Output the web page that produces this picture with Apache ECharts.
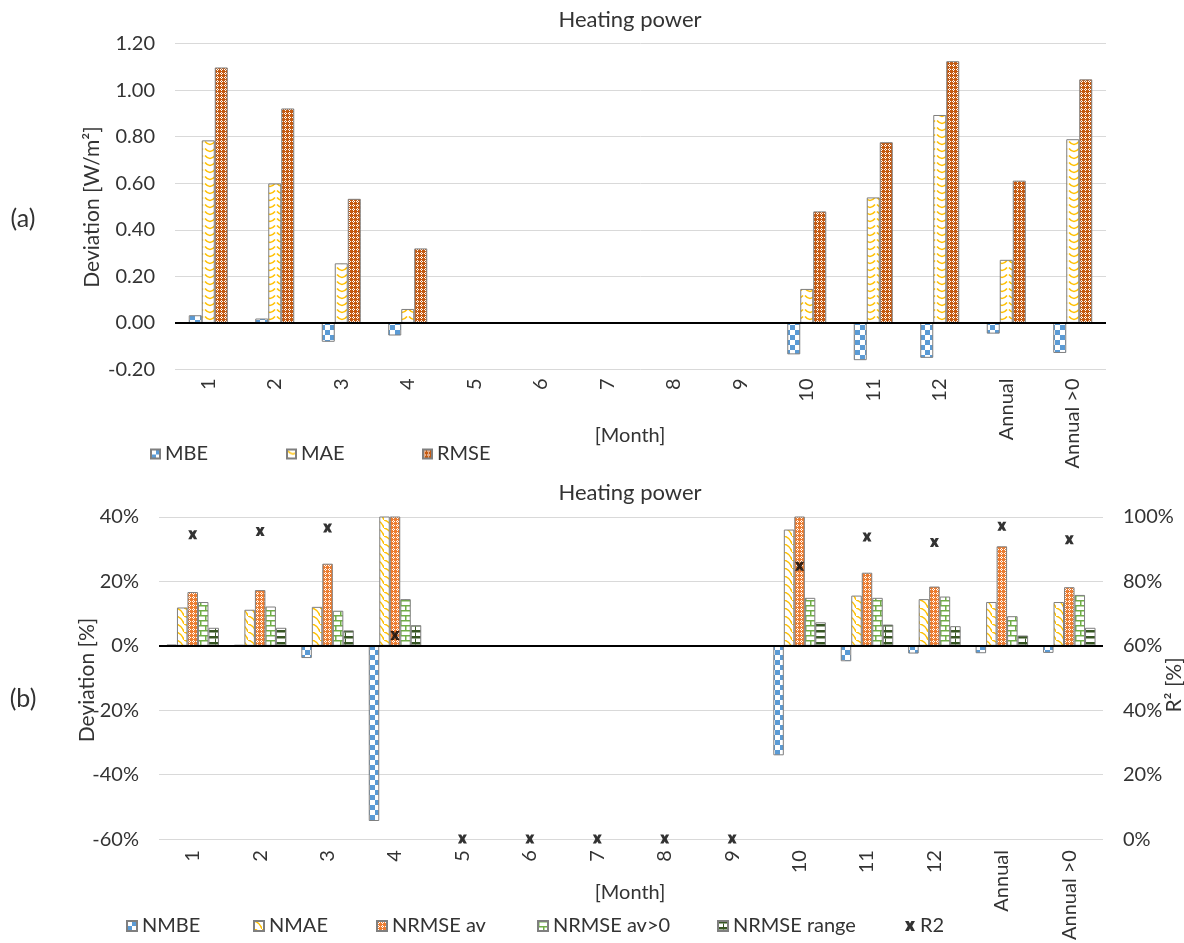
<!DOCTYPE html>
<html><head><meta charset="utf-8">
<script src="https://cdn.jsdelivr.net/npm/echarts@6/dist/echarts.min.js"></script>
<style>html,body{margin:0;padding:0;background:#fff}#c{width:1184px;height:943px}</style>
</head><body><div id="c"></div>
<script>
// ---------- data ----------
const categories = ['1','2','3','4','5','6','7','8','9','10','11','12','Annual','Annual >0'];
// (a) absolute deviations [W/m2]
const mbe  = [0.033, 0.019, -0.081, -0.054, null, null, null, null, null, -0.135, -0.160, -0.150, -0.046, -0.129];
const mae  = [0.784, 0.599, 0.256, 0.060, null, null, null, null, null, 0.146, 0.539, 0.893, 0.271, 0.789];
const rmse = [1.097, 0.921, 0.533, 0.320, null, null, null, null, null, 0.479, 0.776, 1.124, 0.611, 1.046];
// (b) relative deviations [%]
const nmbe       = [0.4, 0.3, -3.8, -54.4, null, null, null, null, null, -34.0, -4.8, -2.4, -2.3, -2.2];
const nmae       = [11.9, 11.2, 12.1, 48.0, null, null, null, null, null, 36.1, 15.6, 14.5, 13.6, 13.6];
const nrmseAv    = [16.7, 17.3, 25.5, 60.0, null, null, null, null, null, 45.0, 22.7, 18.4, 30.9, 18.2];
const nrmseAvPos = [13.6, 12.2, 10.9, 14.5, null, null, null, null, null, 14.9, 14.9, 15.3, 9.2, 15.8];
const nrmseRange = [5.6, 5.6, 4.8, 6.4, null, null, null, null, null, 7.3, 6.6, 6.1, 3.2, 5.6];
const r2         = [94.5, 95.5, 96.6, 63.2, 0, 0, 0, 0, 0, 84.7, 93.8, 92.1, 97.1, 92.9];
const yTicksA = { min: -0.2, max: 1.2, interval: 0.2 };
const yTicksB = { min: -60, max: 40, interval: 20 };
const yTicksR = { min: 0, max: 100, interval: 20 };
const legendA = ['MBE', 'MAE', 'RMSE'];
const legendB = ['NMBE', 'NMAE', 'NRMSE av', 'NRMSE av>0', 'NRMSE range', 'R2'];

// ---------- patterns ----------
function pat(w, h, fn) {
  const c = document.createElement('canvas'); c.width = w; c.height = h;
  const g = c.getContext('2d'); g.fillStyle = '#fff'; g.fillRect(0, 0, w, h); fn(g);
  return { image: c, repeat: 'repeat' };
}
const pChecker = pat(10, 10, g => { g.fillStyle = '#5B9BD5'; g.fillRect(5, 0, 5, 5); g.fillRect(0, 5, 5, 5); });
const pWave = pat(12, 7, g => { g.strokeStyle = '#FFC000'; g.lineWidth = 1.6; g.beginPath(); g.moveTo(1, 1.5); g.quadraticCurveTo(6, 7.5, 11, 1.5); g.stroke(); });
const pDiagWave = pat(8, 8, g => { g.strokeStyle = '#FFC000'; g.lineWidth = 1.5; g.beginPath(); g.moveTo(0, 0); g.quadraticCurveTo(6, 1.5, 8, 8); g.stroke(); });
function dots(base) {
  return pat(4, 4, g => { g.fillStyle = base; g.fillRect(0, 0, 4, 4); g.fillStyle = '#fff';
    g.fillRect(1, 0, 1, 1); g.fillRect(0, 1, 1, 1); g.fillRect(2, 1, 1, 1); g.fillRect(1, 2, 1, 1); });
}
const pDotsDark = dots('#C55A11');
const pDotsLight = dots('#ED7D31');
const pBrick = pat(10, 10, g => { g.fillStyle = '#70AD47'; g.fillRect(0, 0, 10, 1.5); g.fillRect(0, 5, 10, 1.5); g.fillRect(0, 0, 1.5, 5); g.fillRect(5, 5, 1.5, 5); });
const pHBrick = pat(10, 6, g => { g.fillStyle = '#375623'; g.fillRect(0, 0, 10, 2.5); g.fillRect(5, 2.5, 1, 3.5); });

const xPath = 'path://M0,0 L3.6,0 L5,2.4 L6.4,0 L10,0 L7.2,5 L10,10 L6.4,10 L5,7.6 L3.6,10 L0,10 L2.8,5 Z';
const FONT = 'Lato';
const TXT = '#333';
const FS = 20;
const border = { borderColor: '#7f7f7f', borderWidth: 1 };
const zeroLine = { silent: true, symbol: 'none', label: { show: false }, lineStyle: { color: '#000', width: 2, type: 'solid' }, data: [{ yAxis: 0 }], animation: false };

function txt(text, x, y, size, rot) {
  return { type: 'text', x: x, y: y, rotation: rot || 0, silent: true,
    style: { text: text, font: size + 'px ' + FONT, fill: TXT, align: 'center', verticalAlign: 'middle', textAlign: 'center', textVerticalAlign: 'middle' } };
}
function legendItem(name, left, top, size, icon) {
  return { data: [icon ? { name: name, icon: icon } : name], left: left, top: top, padding: 0, icon: 'rect',
    itemWidth: size, itemHeight: size, textStyle: { fontSize: FS, color: TXT, fontFamily: FONT, lineHeight: 22 } };
}
const legendLeftA = [150, 286, 422];
const legendLeftB = [126, 253, 376, 537, 717, 905];

const chart = echarts.init(document.getElementById('c'), null, { renderer: 'canvas' });
const axisLabelStyle = { fontSize: FS, color: TXT, fontFamily: FONT };
chart.setOption({
  animation: false,
  backgroundColor: '#fff',
  grid: [
    { left: 175, top: 43.5, width: 931, height: 326 },
    { left: 159, top: 517, width: 944, height: 326 }
  ],
  xAxis: [
    { type: 'category', gridIndex: 0, data: categories, axisLine: { show: false, onZero: false }, axisTick: { show: false },
      axisLabel: Object.assign({ rotate: 90, margin: 9, interval: 0 }, axisLabelStyle) },
    { type: 'category', gridIndex: 1, data: categories, axisLine: { show: false, onZero: false }, axisTick: { show: false },
      axisLabel: Object.assign({ rotate: 90, margin: 11, interval: 0 }, axisLabelStyle) }
  ],
  yAxis: [
    { type: 'value', gridIndex: 0, min: yTicksA.min, max: yTicksA.max, interval: yTicksA.interval,
      axisLine: { show: false }, axisTick: { show: false }, splitLine: { lineStyle: { color: '#D9D9D9', width: 1 } },
      axisLabel: Object.assign({ margin: 20, formatter: v => (Math.abs(v) < 1e-9 ? 0 : v).toFixed(2) }, axisLabelStyle) },
    { type: 'value', gridIndex: 1, min: yTicksB.min, max: yTicksB.max, interval: yTicksB.interval,
      axisLine: { show: false }, axisTick: { show: false }, splitLine: { lineStyle: { color: '#D9D9D9', width: 1 } },
      axisLabel: Object.assign({ margin: 20, formatter: '{value}%' }, axisLabelStyle) },
    { type: 'value', gridIndex: 1, position: 'right', min: yTicksR.min, max: yTicksR.max, interval: yTicksR.interval,
      axisLine: { show: false }, axisTick: { show: false }, splitLine: { show: false },
      axisLabel: Object.assign({ margin: 20, formatter: '{value}%' }, axisLabelStyle) }
  ],
  legend: legendA.map((n, i) => legendItem(n, legendLeftA[i], 443, 9))
    .concat(legendB.map((n, i) => legendItem(n, legendLeftB[i], 915, 10, n === 'R2' ? xPath : null))),
  graphic: [
    txt('Heating power', 630, 20, 22),
    txt('Heating power', 630, 493, 22),
    txt('Deviation [W/m²]', 92, 207, 21, Math.PI / 2),
    txt('Deviation [%]', 87, 680, 21, Math.PI / 2),
    txt('R² [%]', 1174, 685, 21, Math.PI / 2),
    txt('[Month]', 630, 436, 20),
    txt('[Month]', 630, 893, 20),
    txt('(a)', 23, 219, 25),
    txt('(b)', 23, 699, 25)
  ],
  series: [
    { name: 'MBE', type: 'bar', xAxisIndex: 0, yAxisIndex: 0, data: mbe, barWidth: 13, barGap: '0%', itemStyle: Object.assign({ color: pChecker }, border), markLine: zeroLine },
    { name: 'MAE', type: 'bar', xAxisIndex: 0, yAxisIndex: 0, data: mae, barWidth: 13, barGap: '0%', itemStyle: Object.assign({ color: pWave }, border) },
    { name: 'RMSE', type: 'bar', xAxisIndex: 0, yAxisIndex: 0, data: rmse, barWidth: 13, barGap: '0%', itemStyle: Object.assign({ color: pDotsDark }, border) },
    { name: 'NMBE', type: 'bar', xAxisIndex: 1, yAxisIndex: 1, data: nmbe, barWidth: 10.5, barGap: '0%', itemStyle: Object.assign({ color: pChecker }, border), markLine: zeroLine },
    { name: 'NMAE', type: 'bar', xAxisIndex: 1, yAxisIndex: 1, data: nmae, barWidth: 10.5, barGap: '0%', itemStyle: Object.assign({ color: pDiagWave }, border) },
    { name: 'NRMSE av', type: 'bar', xAxisIndex: 1, yAxisIndex: 1, data: nrmseAv, barWidth: 10.5, barGap: '0%', itemStyle: Object.assign({ color: pDotsLight }, border) },
    { name: 'NRMSE av>0', type: 'bar', xAxisIndex: 1, yAxisIndex: 1, data: nrmseAvPos, barWidth: 10.5, barGap: '0%', itemStyle: Object.assign({ color: pBrick }, border) },
    { name: 'NRMSE range', type: 'bar', xAxisIndex: 1, yAxisIndex: 1, data: nrmseRange, barWidth: 10.5, barGap: '0%', itemStyle: Object.assign({ color: pHBrick }, border) },
    { name: 'R2', type: 'scatter', xAxisIndex: 1, yAxisIndex: 2, data: r2, symbol: xPath, symbolSize: 9, clip: false, z: 6, itemStyle: { color: '#000' } }
  ]
});
</script>
</body></html>
